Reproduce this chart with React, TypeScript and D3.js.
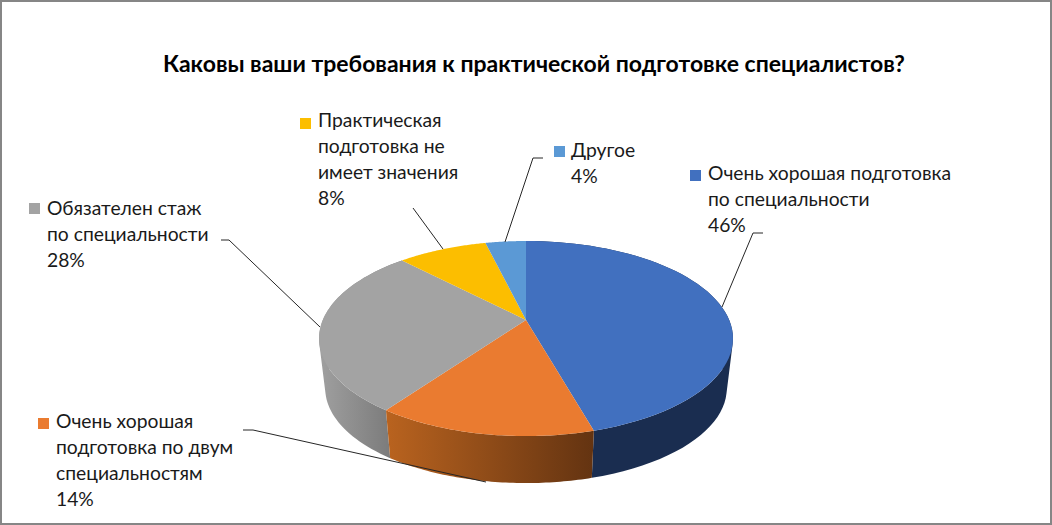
import { useMemo } from 'react';
import * as d3 from 'd3';

// values (labels show them rounded)
const categories = [
  'Очень хорошая подготовка по специальности',
  'Очень хорошая подготовка по двум специальностям',
  'Обязателен стаж по специальности',
  'Практическая подготовка не имеет значения',
  'Другое',
];
const seriesValues = [45.6, 14.3, 27.9, 8.4, 3.8];
const topColors = ['#4170bf', '#ea7b30', '#a3a3a3', '#fcbe00', '#5b99d5'];
const title = 'Каковы ваши требования к практической подготовке специалистов?';
const labelLines = [
  ['Очень хорошая подготовка', 'по специальности'],
  ['Очень хорошая', 'подготовка по двум', 'специальностям'],
  ['Обязателен стаж', 'по специальности'],
  ['Практическая', 'подготовка не', 'имеет значения'],
  ['Другое'],
];

const W = 1052;
const H = 525;
const FONT = 'Lato, "Open Sans", sans-serif';

// where each label block sits, and its leader line
const labelPos = [
  { x: 708, y: 180, sx: 690, sy: 170 },
  { x: 56, y: 428, sx: 38, sy: 418 },
  { x: 47, y: 215, sx: 29, sy: 203 },
  { x: 318, y: 127, sx: 300, sy: 118 },
  { x: 571, y: 157, sx: 554, sy: 146 },
];
const leaders = [
  [[763, 233], [753, 233], [722, 307]],
  [[243, 430], [253, 430], [486, 482]],
  [[221, 240], [229, 240], [320, 327]],
  [[413, 208], [443, 249]],
  [[543, 158], [533, 158], [505, 242]],
];

// perspective of the disc: top face and the smaller bottom face
const k = 0.19;
const project = (a: number, cy: number, s: number): [number, number] => {
  const x = Math.sin(a);
  const z = -Math.cos(a);
  const w = 1 - k * z;
  return [526 + (203.2 * s * x) / w, cy + (94 * s * z) / w];
};
const top = (a: number) => project(a, 320, 1);
const bottom = (a: number) => project(a, 370.5, 0.97);

const arcAngles = (a0: number, a1: number) => d3.range(0, 61).map((i) => a0 + ((a1 - a0) * i) / 60);

export default function App() {
  const arcs = useMemo(() => d3.pie<number>().sort(null)(seriesValues), []);
  const line = d3.line();

  return (
    <svg width={W} height={H} style={{ position: 'absolute', left: 0, top: 0 }}>
      <defs>
        <linearGradient id="sideOrange" gradientUnits="userSpaceOnUse" x1={387} x2={595} y1={0} y2={0}>
          <stop offset="0" stopColor="#b9631f" />
          <stop offset="1" stopColor="#633311" />
        </linearGradient>
        <linearGradient id="sideGray" gradientUnits="userSpaceOnUse" x1={319} x2={391} y1={0} y2={0}>
          <stop offset="0" stopColor="#a0a0a0" />
          <stop offset="1" stopColor="#7b7b7b" />
        </linearGradient>
      </defs>
      <rect x={1} y={1} width={W - 2} height={H - 2} fill="#fff" stroke="#868686" strokeWidth={2} />

      {/* side walls, only the front ones show */}
      {[0, 2, 1].map((i) => {
        const d = arcs[i];
        const angles = arcAngles(d.startAngle, d.endAngle);
        // one quad per step, all wound the same way or the overlaps at the silhouette cancel out
        const quads = angles
          .slice(1)
          .map((a, j) => {
            const q: [number, number][] = [top(angles[j]), top(a), bottom(a), bottom(angles[j])];
            return line(d3.polygonArea(q) < 0 ? q.reverse() : q) + 'Z';
          })
          .join('');
        const fill = i === 0 ? '#1a2d50' : i === 1 ? 'url(#sideOrange)' : 'url(#sideGray)';
        return <path key={i} d={quads} fill={fill} />;
      })}

      {/* top face */}
      {arcs.map((d, i) => (
        <path
          key={categories[i]}
          d={line([[526, 320], ...arcAngles(d.startAngle, d.endAngle).map(top)]) + 'Z'}
          fill={topColors[i]}
        />
      ))}

      {leaders.map((pts, i) => (
        <path key={i} d={line(pts as [number, number][]) ?? ''} fill="none" stroke="#262626" strokeWidth={1} />
      ))}

      <text x={534} y={72} textAnchor="middle" fontFamily={FONT} fontWeight={700} fontSize={23} fill="#000">
        {title}
      </text>

      {labelPos.map((p, i) => (
        <g key={i} fontFamily={FONT} fontSize={19.3} fill="#1a1a1a">
          <rect x={p.sx} y={p.sy} width={11} height={11} fill={topColors[i]} />
          {[...labelLines[i], `${Math.round(seriesValues[i])}%`].map((t, j) => (
            <text key={j} x={p.x} y={p.y + j * 26}>
              {t}
            </text>
          ))}
        </g>
      ))}
    </svg>
  );
}
